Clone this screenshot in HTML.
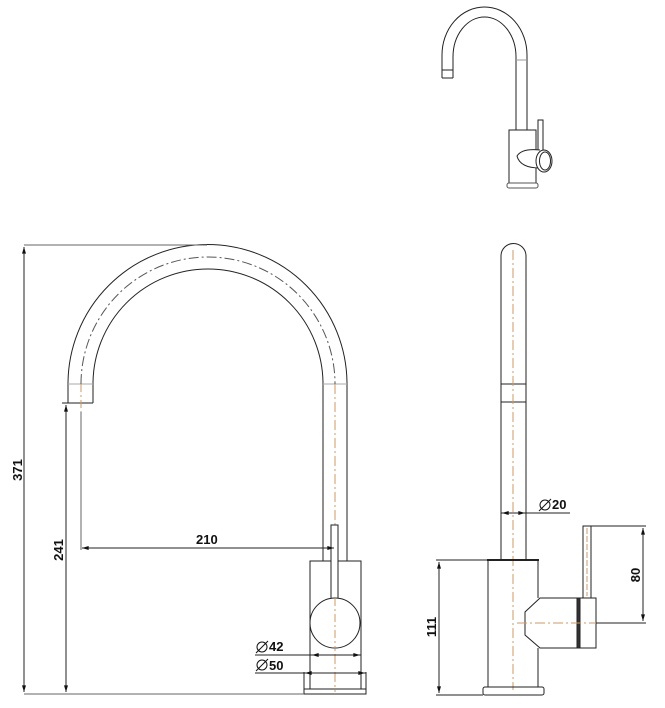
<!DOCTYPE html>
<html><head><meta charset="utf-8"><style>
html,body{margin:0;padding:0;background:#fff;}
svg{display:block;}
text{font-family:"Liberation Sans",sans-serif;font-weight:bold;font-size:13px;fill:#111;}
</style></head><body>
<svg width="665" height="708" viewBox="0 0 665 708" xmlns="http://www.w3.org/2000/svg">
<defs>
<marker id="a" viewBox="0 0 10 6" refX="10" refY="3" markerWidth="7" markerHeight="4" orient="auto-start-reverse"><path d="M0,0 L10,3 L0,6z" fill="#111"/></marker>
</defs>
<g fill="none" stroke="#222" stroke-width="1">
<!-- thumbnail -->
<path d="M442,73 L442,55 A42.5,48 0 0 1 527,55 L527,130"/>
<path d="M453,73 L453,57 A31.5,40 0 0 1 516,57 L516,130"/>
<path d="M442,70 L453,70 M442,78 L453,78 M442,73 L442,78 M453,73 L453,78"/>
<line x1="516" y1="60" x2="527" y2="60" stroke="#999"/>
<rect x="509" y="130" width="27" height="53"/>
<rect x="507" y="183" width="31" height="5" rx="2" stroke="#555"/>
<rect x="538" y="120" width="5" height="33"/>
<path d="M540,150 Q522,148 517,156 Q520,168 540,168" fill="#fff"/>
<ellipse cx="544" cy="161" rx="8" ry="11" fill="#fff"/>
<ellipse cx="545" cy="161" rx="5.5" ry="9"/>

<!-- front view -->
<path d="M68,403 L68,384 A139.5,139.5 0 0 1 347,384 L347,561"/>
<path d="M93,403 L93,384 A115,115 0 0 1 323,384 L323,561"/>
<line x1="68" y1="403" x2="93" y2="403"/>
<line x1="68" y1="384" x2="93" y2="384" stroke="#aaa"/>
<line x1="323" y1="384" x2="347" y2="384" stroke="#aaa"/>
<path d="M81,384 A126.5,126.5 0 0 1 335,384" stroke="#555" stroke-dasharray="10,3,2,3"/>
<line x1="81" y1="384" x2="81" y2="412" stroke="#c96" stroke-dasharray="8,3,2,3"/>
<line x1="335" y1="384" x2="335" y2="692" stroke="#c96" stroke-dasharray="10,3,2,3"/>
<rect x="310" y="561" width="51" height="128"/>
<rect x="331" y="525" width="7" height="74" fill="#fff"/>
<circle cx="335" cy="623" r="25" fill="#fff"/>
<line x1="335" y1="598" x2="335" y2="648" stroke="#c96" stroke-dasharray="8,3,2,3"/>
<path d="M304,672 L304,694 L366,694 L366,672"/>
<line x1="304" y1="689" x2="366" y2="689"/>
<!-- dims front -->
<line x1="24" y1="245" x2="207" y2="245" stroke="#666"/>
<line x1="24" y1="694" x2="304" y2="694" stroke="#666"/>
<line x1="24" y1="247" x2="24" y2="692" marker-start="url(#a)" marker-end="url(#a)"/>
<line x1="62" y1="403" x2="68" y2="403"/>
<line x1="66" y1="405" x2="66" y2="692" marker-start="url(#a)" marker-end="url(#a)"/>
<line x1="81" y1="412" x2="81" y2="550" stroke="#666"/>
<line x1="82" y1="548" x2="334" y2="548" marker-start="url(#a)" marker-end="url(#a)"/>
<line x1="255" y1="655" x2="361" y2="655"/>
<line x1="312" y1="655" x2="360" y2="655" marker-start="url(#a)" marker-end="url(#a)"/>
<line x1="255" y1="673" x2="366" y2="673"/>
<line x1="305" y1="673" x2="365" y2="673" marker-start="url(#a)" marker-end="url(#a)"/>

<!-- side view -->
<path d="M501,560 L501,256 A12.5,12.5 0 0 1 526,256 L526,560"/>
<line x1="501" y1="384" x2="526" y2="384"/>
<line x1="501" y1="402" x2="526" y2="402"/>
<line x1="513" y1="250" x2="513" y2="690" stroke="#c96" stroke-dasharray="10,3,2,3"/>
<path d="M488,687 L488,560 L538,560 L538,598 M538,648 L538,687 L488,687"/>
<line x1="487" y1="560" x2="539" y2="560" stroke-width="2"/>
<path d="M577,598 L540,598 L525,612 L525,635 L540,648 L577,648"/>
<rect x="483" y="687" width="61" height="8" rx="2"/>
<rect x="577" y="598" width="19" height="50" fill="#fff"/>
<rect x="577" y="598" width="3" height="50" fill="#333"/>
<rect x="583" y="526" width="8" height="72" fill="#fff"/>
<line x1="587" y1="528" x2="587" y2="596" stroke="#c96" stroke-dasharray="6,2"/>
<line x1="517" y1="623" x2="600" y2="623" stroke="#c96" stroke-dasharray="10,3,2,3"/>
<!-- dims side -->
<line x1="501" y1="513" x2="570" y2="513"/>
<line x1="502" y1="513" x2="525" y2="513" marker-start="url(#a)" marker-end="url(#a)"/>
<line x1="591" y1="526" x2="646" y2="526"/>
<line x1="596" y1="623" x2="646" y2="623"/>
<line x1="643" y1="528" x2="643" y2="621" marker-start="url(#a)" marker-end="url(#a)"/>
<line x1="436" y1="560" x2="488" y2="560"/>
<line x1="436" y1="695" x2="483" y2="695"/>
<line x1="439" y1="562" x2="439" y2="693" marker-start="url(#a)" marker-end="url(#a)"/>
</g>
<text x="196" y="544">210</text>
<text x="269" y="651">42</text>
<text x="269" y="670">50</text>
<text x="552" y="509">20</text>
<g fill="#111" stroke="#111" stroke-width="1"><circle cx="262" cy="647" r="5" fill="none"/><line x1="256" y1="653" x2="268" y2="641"/>
<circle cx="262" cy="665" r="5" fill="none"/><line x1="256" y1="671" x2="268" y2="659"/>
<circle cx="545" cy="505" r="5" fill="none"/><line x1="539" y1="511" x2="551" y2="499"/></g>
<text transform="translate(22,470) rotate(-90)" text-anchor="middle">371</text>
<text transform="translate(63,550) rotate(-90)" text-anchor="middle">241</text>
<text transform="translate(436,627) rotate(-90)" text-anchor="middle">111</text>
<text transform="translate(640,575) rotate(-90)" text-anchor="middle">80</text>
</svg>
</body></html>
